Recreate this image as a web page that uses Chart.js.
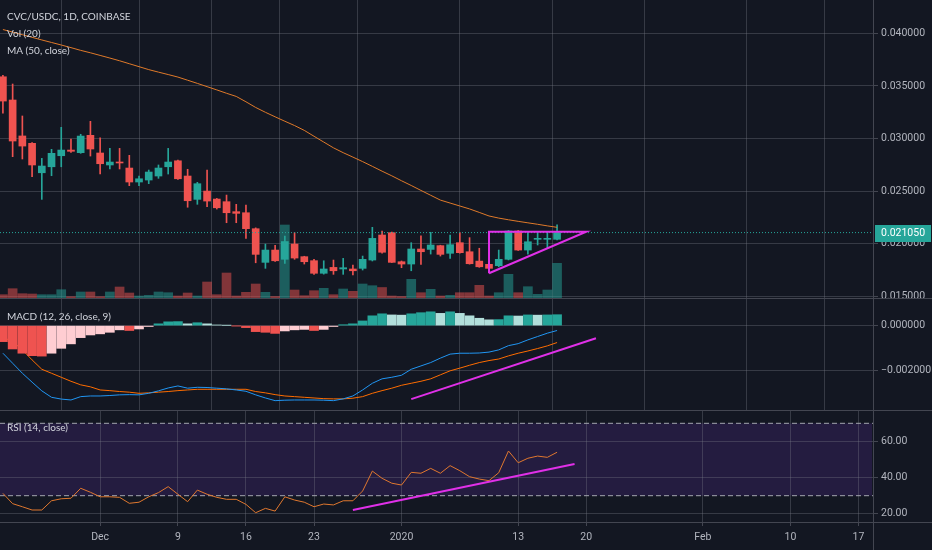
<!DOCTYPE html>
<html><head><meta charset="utf-8">
<script src="https://cdn.jsdelivr.net/npm/chart.js@4.4.1/dist/chart.umd.min.js"></script>
<style>
html,body{margin:0;padding:0;background:#131722;overflow:hidden;}
#wrap{position:relative;width:932px;height:550px;background:#131722;}
canvas{position:absolute;left:0;}
.hl{position:absolute;left:0;width:932px;height:1px;background:#434651;}
.vl{position:absolute;top:0;left:873px;width:1px;height:550px;background:#434651;}
</style></head><body>
<div id="wrap">
<canvas id="cPrice" width="932" height="298" style="top:0px"></canvas>
<canvas id="cMacd" width="932" height="112" style="top:298px"></canvas>
<canvas id="cRsi" width="932" height="140" style="top:410px"></canvas>
<div class="hl" style="top:298px"></div>
<div class="hl" style="top:410px"></div>
<div class="hl" style="top:522px"></div>
<div class="vl"></div>
</div>
<script>
// ---------- data (days counted from 1 Dec 2019) ----------
const DAY = [-10,-9,-8,-7,-6,-5,-4,-3,-2,-1,0,1,2,3,4,5,6,7,8,9,10,11,12,13,14,15,16,17,18,19,20,21,22,23,24,25,26,27,28,29,30,31,32,33,34,35,36,37,38,39,40,41,42,43,44,45,46,47];
const X_TICK_DAYS = [0, 8, 15, 22, 31, 43, 50, 62, 71, 78];
const X_TICK_LABELS = ['Dec','9','16','23','2020','13','20','Feb','10','17'];
const X_MIN = -10.3, X_MAX = 79.6;

const OPEN = [0.03587,0.03366,0.03024,0.02954,0.02674,0.02731,0.02836,0.02890,0.02865,0.03030,
 0.02862,0.02748,0.02776,0.02719,0.02586,0.02605,0.02643,0.02731,0.02788,0.02643,
 0.02421,0.02500,0.02424,0.02399,0.02304,0.02294,0.02142,0.01822,0.01939,0.01851,
 0.01996,0.01876,0.01838,0.01718,0.01774,0.01759,0.01759,0.01765,0.01844,0.02082,
 0.02104,0.01828,0.01806,0.01949,0.01945,0.01981,0.01908,0.02009,0.01923,0.01834,
 0.01803,0.01790,0.01851,0.02120,0.01939,0.02041,0.02041,0.02041];
const HIGH = [0.03600,0.03518,0.03214,0.02960,0.02811,0.02897,0.03106,0.02995,0.03040,0.03163,
 0.03007,0.02906,0.02906,0.02840,0.02643,0.02700,0.02748,0.02906,0.02795,0.02707,
 0.02583,0.02700,0.02430,0.02462,0.02374,0.02367,0.02150,0.01996,0.01984,0.02072,
 0.02104,0.01880,0.01850,0.01837,0.01844,0.01860,0.01797,0.01882,0.02155,0.02120,
 0.02110,0.01835,0.02009,0.02075,0.02108,0.01985,0.02082,0.02104,0.02057,0.01956,
 0.01830,0.01939,0.02125,0.02125,0.02108,0.02108,0.02108,0.02180];
const LOW = [0.03241,0.02827,0.02805,0.02636,0.02421,0.02646,0.02731,0.02868,0.02859,0.02833,
 0.02662,0.02710,0.02710,0.02551,0.02551,0.02570,0.02621,0.02662,0.02610,0.02346,
 0.02374,0.02351,0.02329,0.02199,0.02199,0.02050,0.01818,0.01765,0.01830,0.01813,
 0.01851,0.01806,0.01708,0.01710,0.01708,0.01708,0.01702,0.01749,0.01835,0.01910,
 0.01820,0.01771,0.01742,0.01803,0.01901,0.01882,0.01860,0.01910,0.01805,0.01775,
 0.01756,0.01780,0.01845,0.01935,0.01901,0.01987,0.01961,0.02035];
const CLOSE = [0.03356,0.02976,0.02928,0.02748,0.02738,0.02859,0.02890,0.02878,0.03023,0.02900,
 0.02760,0.02776,0.02767,0.02586,0.02617,0.02681,0.02719,0.02776,0.02617,0.02408,
 0.02570,0.02405,0.02341,0.02294,0.02288,0.02142,0.01898,0.01939,0.01837,0.02020,
 0.01863,0.01828,0.01718,0.01759,0.01742,0.01771,0.01742,0.01851,0.02050,0.01918,
 0.01822,0.01806,0.01949,0.01923,0.01987,0.01898,0.01990,0.01914,0.01809,0.01780,
 0.01765,0.01851,0.02120,0.01939,0.02018,0.02050,0.02050,0.02105];
// volume, thousands of CVC
const VOLUME = [66,186,86,80,66,66,166,26,120,120, 26,120,220,100,40,54,120,106,40,100,
 40,320,66,500,40,114,280,114,30,1460, 160,46,146,194,66,180,134,280,246,210,
 40,30,374,106,174,40,54,106,106,254, 40,106,474,106,226,74,160,694];
const MA50 = [0.04036,0.04012,0.03987,0.03962,0.03937,0.03913,0.03889,0.03864,0.03838,0.03815,
 0.03790,0.03765,0.03739,0.03711,0.03683,0.03655,0.03631,0.03608,0.03584,0.03554,
 0.03524,0.03493,0.03462,0.03430,0.03400,0.03349,0.03295,0.03249,0.03206,0.03164,
 0.03123,0.03077,0.03021,0.02966,0.02911,0.02865,0.02823,0.02780,0.02735,0.02689,
 0.02645,0.02598,0.02553,0.02506,0.02460,0.02414,0.02386,0.02358,0.02330,0.02297,
 0.02263,0.02243,0.02227,0.02212,0.02198,0.02184,0.02169,0.02155];
const LAST_PRICE = 0.02105;
const PRICE_TICKS = [0.015, 0.020, 0.025, 0.030, 0.035, 0.040];

const MACD_LINE = [-0.00124,-0.00169,-0.00214,-0.00254,-0.00293,-0.00322,-0.00330,-0.00334,-0.00319,-0.00316,
 -0.00316,-0.00314,-0.00311,-0.00310,-0.00311,-0.00304,-0.00293,-0.00280,-0.00271,-0.00281,
 -0.00277,-0.00278,-0.00281,-0.00284,-0.00289,-0.00295,-0.00311,-0.00325,-0.00337,-0.00335,
 -0.00334,-0.00334,-0.00334,-0.00335,-0.00337,-0.00329,-0.00316,-0.00289,-0.00259,-0.00239,
 -0.00232,-0.00223,-0.00196,-0.00181,-0.00166,-0.00146,-0.00128,-0.00124,-0.00124,-0.00123,
 -0.00119,-0.00109,-0.00090,-0.00081,-0.00064,-0.00049,-0.00034,-0.00022];
const SIGNAL_LINE = [-0.00052,-0.00072,-0.00109,-0.00154,-0.00196,-0.00214,-0.00232,-0.00250,-0.00266,-0.00275,
 -0.00289,-0.00292,-0.00296,-0.00299,-0.00304,-0.00302,-0.00299,-0.00296,-0.00292,-0.00289,
 -0.00286,-0.00286,-0.00286,-0.00286,-0.00286,-0.00286,-0.00296,-0.00302,-0.00310,-0.00316,
 -0.00319,-0.00322,-0.00325,-0.00328,-0.00329,-0.00329,-0.00326,-0.00319,-0.00304,-0.00292,
 -0.00281,-0.00268,-0.00259,-0.00250,-0.00239,-0.00221,-0.00203,-0.00191,-0.00178,-0.00166,
 -0.00157,-0.00150,-0.00136,-0.00124,-0.00114,-0.00103,-0.00091,-0.00076];
const MACD_HIST = [-0.00072,-0.00105,-0.00124,-0.00135,-0.00137,-0.00124,-0.00102,-0.00082,-0.00054,-0.00042,
 -0.00037,-0.00030,-0.00019,-0.00022,-0.00015,-0.00004,0.00008,0.00017,0.00018,0.00008,
 0.00013,0.00008,0.00003,0.00001,-0.00001,-0.00009,-0.00027,-0.00030,-0.00035,-0.00024,
 -0.00019,-0.00017,-0.00022,-0.00017,-0.00004,0.00004,0.00008,0.00021,0.00044,0.00053,
 0.00048,0.00047,0.00053,0.00058,0.00062,0.00055,0.00062,0.00055,0.00044,0.00033,
 0.00026,0.00027,0.00044,0.00043,0.00048,0.00047,0.00048,0.00049];
const MACD_TICKS = [-0.002, 0];

const RSI = [31.3,25.6,23.9,22.1,22.1,27.2,28.3,28.6,34.1,31.9,
 29.4,29.4,29.1,25.8,26.4,29.4,31.7,35.0,30.8,26.7,
 33.1,30.8,29.1,28.0,28.0,25.2,20.6,23.0,21.5,29.4,
 27.6,26.4,23.9,25.4,24.9,27.2,27.2,32.6,43.6,39.6,
 36.9,35.9,42.9,42.4,45.1,42.4,46.6,43.8,40.5,39.2,
 38.3,42.7,54.7,48.2,50.7,51.9,51.2,54.0];
const RSI_UPPER = 70, RSI_LOWER = 30;
const RSI_TICKS = [20, 40, 60];

// hand-drawn trend lines (day, value)
const TRI_X = [40, 40, 50, 40];
const TRI_Y = [0.01718, 0.02113, 0.02113, 0.01718];
const MACD_TREND_X = [32, 51];
const MACD_TREND_Y = [-0.00330, -0.00057];
const RSI_TREND_X = [26, 48.8];
const RSI_TREND_Y = [22.1, 47.5];

// axis ranges of each pane
const P_MIN = 0.01483, P_MAX = 0.04317, VOL_AXIS_MAX = 5960;
const M_MIN = -0.00379, M_MAX = 0.00124;
const R_MIN = 15.47, R_MAX = 77.35;

// ---------- styles ----------
const UP = '#26a69a', DOWN = '#ef5350';
const UP_VOL = 'rgba(38,166,154,0.5)', DOWN_VOL = 'rgba(239,83,80,0.5)';
const GRID = 'rgba(120,123,134,0.35)', SEP = '#434651', TEXT = '#b2b5be', TITLE = '#d1d4dc';
const MAGENTA = '#e030e8';
const AXIS_FONT = {family: 'Roboto', size: 10.5};

Chart.defaults.font.family = 'Roboto';
Chart.defaults.animation = false;

const pts = (xs, ys) => xs.map((x, i) => ({x: x, y: ys[i]}));
const fmt6 = v => { if (Math.abs(v) < 1e-12) v = 0; return v < 0 ? '\u2212' + Math.abs(v).toFixed(6) : v.toFixed(6); };
const isUp = i => CLOSE[i] >= OPEN[i];

function xScale(showLabels) {
  return {
    type: 'linear', min: X_MIN, max: X_MAX, bounds: 'data', offset: false,
    afterBuildTicks: s => { s.ticks = X_TICK_DAYS.map(v => ({value: v})); },
    grid: {color: GRID, drawTicks: showLabels, tickLength: 4, tickColor: SEP},
    border: {display: false},
    ticks: {display: showLabels, autoSkip: false, maxRotation: 0, minRotation: 0, padding: 5,
      color: TEXT, font: AXIS_FONT, callback: (v, i) => X_TICK_LABELS[i]},
    afterFit: s => { s.height = showLabels ? 28 : 0; s.paddingLeft = 0; s.paddingRight = 0; }
  };
}
function yScale(min, max, tickValues, fmt) {
  return {
    type: 'linear', position: 'right', min: min, max: max, bounds: 'data',
    afterBuildTicks: s => { s.ticks = tickValues.map(v => ({value: v})); },
    grid: {color: GRID, tickLength: 4, tickColor: SEP},
    border: {display: false},
    ticks: {autoSkip: false, padding: 3, color: TEXT, font: AXIS_FONT, callback: fmt},
    afterFit: s => { s.width = 58; s.paddingTop = 0; s.paddingBottom = 0; }
  };
}
function titles(lines) {
  return {id: 'titles', afterDraw(chart) {
    const ctx = chart.ctx; ctx.save();
    ctx.font = '10px Lato'; ctx.fillStyle = TITLE; ctx.textBaseline = 'middle';
    lines.forEach(l => ctx.fillText(l[0], 7, l[1]));
    ctx.restore();
  }};
}
const baseOpts = (scales) => ({
  responsive: false, animation: false, events: [],
  layout: {padding: 0},
  plugins: {legend: {display: false}, tooltip: {enabled: false}},
  scales: scales
});

// ---------- price pane ----------
const lastPriceLabel = {id: 'lastPrice', afterDraw(chart) {
  const ctx = chart.ctx, y = chart.scales.y.getPixelForValue(LAST_PRICE), r = chart.chartArea.right;
  ctx.save();
  ctx.fillStyle = UP; ctx.fillRect(r + 1, Math.round(y) - 8, 56, 17);
  ctx.fillStyle = '#ffffff'; ctx.font = '10.5px Roboto'; ctx.textBaseline = 'middle';
  ctx.fillText(fmt6(LAST_PRICE), r + 7, Math.round(y) + 0.5);
  ctx.restore();
}};

new Chart(document.getElementById('cPrice'), {
  type: 'bar',
  data: {datasets: [
    {type: 'line', order: 0, data: pts(TRI_X, TRI_Y), borderColor: MAGENTA, borderWidth: 2, pointRadius: 0, yAxisID: 'y'},
    {type: 'line', order: 1, data: pts([X_MIN, X_MAX], [LAST_PRICE, LAST_PRICE]), borderColor: UP, borderWidth: 1, borderDash: [1, 2], pointRadius: 0, yAxisID: 'y'},
    {type: 'line', order: 2, data: pts(DAY, MA50), borderColor: '#e07a2a', borderWidth: 1, pointRadius: 0, yAxisID: 'y'},
    {type: 'bar', order: 3, data: DAY.map((d, i) => ({x: d, y: [OPEN[i], CLOSE[i]]})), backgroundColor: c => isUp(c.dataIndex) ? UP : DOWN, barThickness: 7, grouped: false, minBarLength: 1, yAxisID: 'y'},
    {type: 'bar', order: 4, data: DAY.map((d, i) => ({x: d, y: [LOW[i], HIGH[i]]})), backgroundColor: c => isUp(c.dataIndex) ? UP : DOWN, barThickness: 1, grouped: false, yAxisID: 'y'},
    {type: 'bar', order: 5, data: pts(DAY, VOLUME), backgroundColor: c => isUp(c.dataIndex) ? UP_VOL : DOWN_VOL, barThickness: 9, grouped: false, yAxisID: 'yv'}
  ]},
  options: baseOpts({
    x: xScale(false),
    y: yScale(P_MIN, P_MAX, PRICE_TICKS, fmt6),
    yv: {display: false, type: 'linear', min: 0, max: VOL_AXIS_MAX, bounds: 'data'}
  }),
  plugins: [lastPriceLabel, titles([['CVC/USDC, 1D, COINBASE', 17], ['Vol (20)', 34], ['MA (50, close)', 51]])]
});

// ---------- MACD pane ----------
function histColor(c) {
  const i = c.dataIndex, v = MACD_HIST[i], p = i > 0 ? MACD_HIST[i - 1] : v;
  if (v >= 0) return v >= p ? '#26a69a' : '#b2dfdb';
  return v <= p ? '#ef5350' : '#ffcdd2';
}
new Chart(document.getElementById('cMacd'), {
  type: 'bar',
  data: {datasets: [
    {type: 'line', order: 0, data: pts(MACD_TREND_X, MACD_TREND_Y), borderColor: MAGENTA, borderWidth: 2, pointRadius: 0},
    {type: 'bar', order: 1, data: pts(DAY, MACD_HIST), backgroundColor: histColor, barThickness: 9, grouped: false},
    {type: 'line', order: 2, data: pts(DAY, MACD_LINE), borderColor: '#2196f3', borderWidth: 1, pointRadius: 0},
    {type: 'line', order: 3, data: pts(DAY, SIGNAL_LINE), borderColor: '#ff6d00', borderWidth: 1, pointRadius: 0}
  ]},
  options: baseOpts({x: xScale(false), y: yScale(M_MIN, M_MAX, MACD_TICKS, fmt6)}),
  plugins: [titles([['MACD (12, 26, close, 9)', 19]])]
});

// ---------- RSI pane ----------
const rsiBand = {id: 'rsiBand', beforeDraw(chart) {
  const {ctx, chartArea: a, scales: {y}} = chart;
  const t = y.getPixelForValue(RSI_UPPER), b = y.getPixelForValue(RSI_LOWER);
  ctx.save(); ctx.fillStyle = 'rgba(125,55,215,0.17)'; ctx.fillRect(a.left, t, a.width - 2, b - t); ctx.restore();
}};
new Chart(document.getElementById('cRsi'), {
  type: 'line',
  data: {datasets: [
    {order: 0, data: pts(RSI_TREND_X, RSI_TREND_Y), borderColor: MAGENTA, borderWidth: 2, pointRadius: 0},
    {order: 1, data: pts(DAY, RSI), borderColor: '#e0782f', borderWidth: 1, pointRadius: 0},
    {order: 2, data: pts([X_MIN, X_MAX], [RSI_UPPER, RSI_UPPER]), borderColor: '#a4a7b0', borderWidth: 1, borderDash: [5, 3], pointRadius: 0},
    {order: 3, data: pts([X_MIN, X_MAX], [RSI_LOWER, RSI_LOWER]), borderColor: '#a4a7b0', borderWidth: 1, borderDash: [5, 3], pointRadius: 0}
  ]},
  options: baseOpts({x: xScale(true), y: yScale(R_MIN, R_MAX, RSI_TICKS, v => v.toFixed(2))}),
  plugins: [rsiBand, titles([['RSI (14, close)', 18]])]
});
</script>
</body></html>
